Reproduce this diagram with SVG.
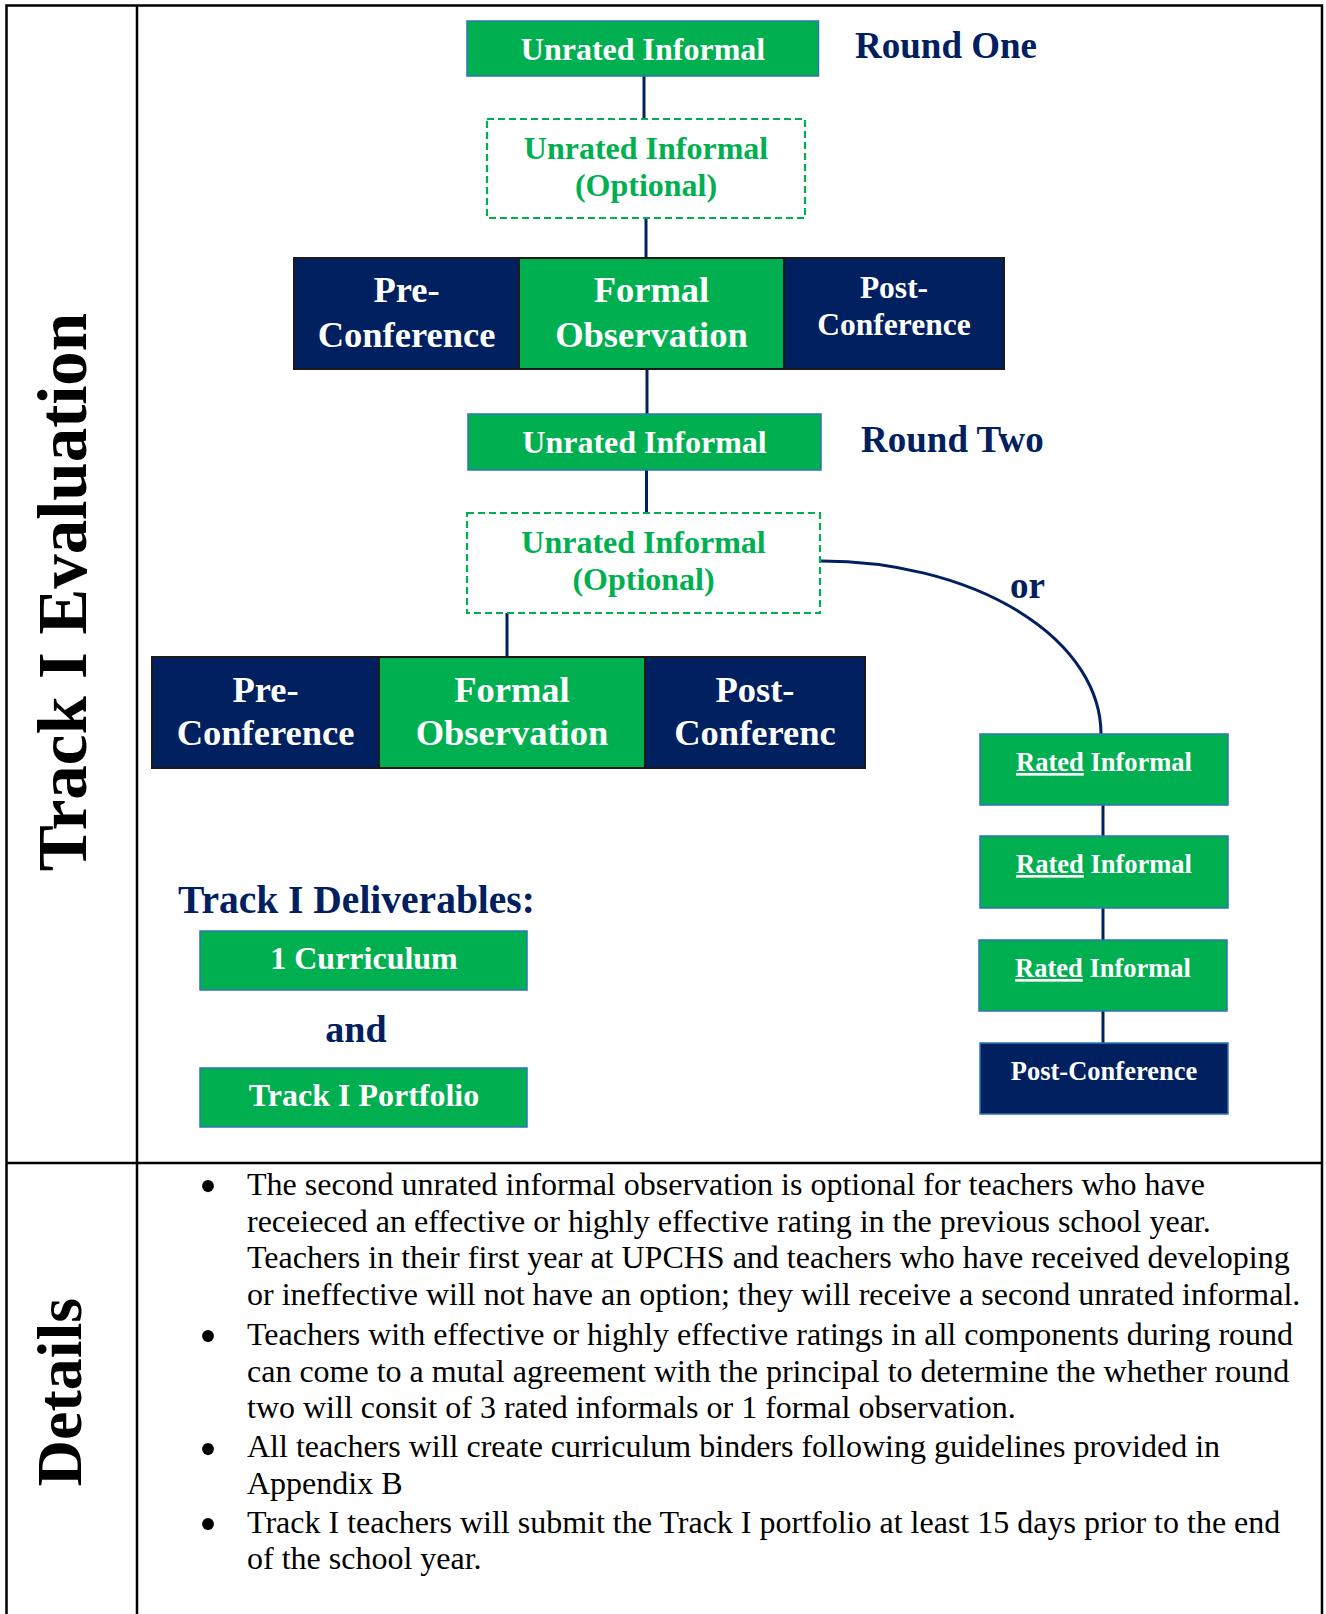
<svg xmlns="http://www.w3.org/2000/svg" width="1326" height="1614" viewBox="0 0 1326 1614">
<style>
text{font-family:"Liberation Serif","Times New Roman",serif;}
.b{font-weight:bold;}
.w{fill:#ffffff;}
.nv{fill:#002060;}
.gt{fill:#00B050;}
.gbox{fill:#00B050;stroke:#2E75B6;stroke-width:1.5;}
.nbox{fill:#002060;stroke:#1a1a1a;stroke-width:2;}
.gbox2{fill:#00B050;stroke:#1a1a1a;stroke-width:2;}
.nbox2{fill:#002060;stroke:#2E75B6;stroke-width:1.5;}
.dbox{fill:#ffffff;stroke:#00B050;stroke-width:2.2;stroke-dasharray:7 4;}
.con{stroke:#002060;stroke-width:3;fill:none;}
.frame{stroke:#000;stroke-width:2.5;fill:none;}
.c{text-anchor:middle;}
.body{font-size:32px;fill:#000;}
.bul{font-size:50px;fill:#000;text-anchor:middle;}
</style>
<rect width="1326" height="1614" fill="#ffffff"/>
<g id="frame">
<path class="frame" d="M6.5 1614 V5.5 H1322 V1614 M137 5.5 V1614 M6.5 1163 H1322"/>
</g>
<g id="labels">
<text class="b" font-size="69" fill="#000" transform="translate(86 592) rotate(-90)" text-anchor="middle">Track I Evaluation</text>
<text class="b" font-size="64" fill="#000" transform="translate(81 1392) rotate(-90)" text-anchor="middle">Details</text>
<text class="b nv" x="855" y="58" font-size="37">Round One</text>
<text class="b nv" x="861" y="452" font-size="37">Round Two</text>
<text class="b nv" x="1010" y="598" font-size="37">or</text>
<text class="b nv" x="178" y="913" font-size="39.5">Track I Deliverables:</text>
<text class="b nv c" x="356" y="1042" font-size="38">and</text>
</g>
<g id="connectors">
<line class="con" x1="644" y1="76" x2="644" y2="119"/>
<line class="con" x1="646" y1="218" x2="646" y2="258"/>
<line class="con" x1="647" y1="369" x2="647" y2="414"/>
<line class="con" x1="646.5" y1="470" x2="646.5" y2="513"/>
<line class="con" x1="507" y1="613" x2="507" y2="657"/>
<path class="con" d="M821 561 A280 173 0 0 1 1101 734"/>
<line class="con" x1="1103" y1="805" x2="1103" y2="836"/>
<line class="con" x1="1103" y1="908" x2="1103" y2="940"/>
<line class="con" x1="1103" y1="1011" x2="1103" y2="1043"/>
</g>
<g id="unrated1">
<rect class="gbox" x="467" y="21" width="351.5" height="55"/>
<text class="b w c" x="643" y="60" font-size="32">Unrated Informal</text>
</g>
<g id="optional1">
<rect class="dbox" x="487" y="119" width="318" height="99"/>
<text class="b gt c" x="646" y="159" font-size="32">Unrated Informal</text>
<text class="b gt c" x="646" y="196" font-size="32">(Optional)</text>
</g>
<g id="pre1">
<rect class="nbox" x="294" y="258" width="225" height="111"/>
<text class="b w c" x="406.5" y="302" font-size="36.5">Pre-</text>
<text class="b w c" x="406.5" y="347" font-size="36.5">Conference</text>
</g>
<g id="formal1">
<rect class="gbox2" x="519" y="258" width="265" height="111"/>
<text class="b w c" x="651.5" y="302" font-size="36.5">Formal</text>
<text class="b w c" x="651.5" y="347" font-size="36.5">Observation</text>
</g>
<g id="post1">
<rect class="nbox" x="784" y="258" width="220" height="111"/>
<text class="b w c" x="894" y="298" font-size="31.5">Post-</text>
<text class="b w c" x="894" y="335" font-size="31.5">Conference</text>
</g>
<g id="unrated2">
<rect class="gbox" x="468" y="414" width="353" height="56"/>
<text class="b w c" x="644.5" y="453" font-size="32">Unrated Informal</text>
</g>
<g id="optional2">
<rect class="dbox" x="467" y="513" width="353" height="100"/>
<text class="b gt c" x="643.5" y="553" font-size="32">Unrated Informal</text>
<text class="b gt c" x="643.5" y="590" font-size="32">(Optional)</text>
</g>
<g id="pre2">
<rect class="nbox" x="152" y="657" width="227" height="111"/>
<text class="b w c" x="265.5" y="702" font-size="36.5">Pre-</text>
<text class="b w c" x="265.5" y="745" font-size="36.5">Conference</text>
</g>
<g id="formal2">
<rect class="gbox2" x="379" y="657" width="266" height="111"/>
<text class="b w c" x="512" y="702" font-size="36.5">Formal</text>
<text class="b w c" x="512" y="745" font-size="36.5">Observation</text>
</g>
<g id="post2">
<rect class="nbox" x="645" y="657" width="220" height="111"/>
<text class="b w c" x="755" y="702" font-size="36.5">Post-</text>
<text class="b w c" x="755" y="745" font-size="36.5">Conferenc</text>
</g>
<g id="rated1">
<rect class="gbox" x="980" y="734" width="248" height="71"/>
<text class="b w c" x="1104" y="771" font-size="26.5"><tspan text-decoration="underline">Rated</tspan> Informal</text>
</g>
<g id="rated2">
<rect class="gbox" x="980" y="836" width="248" height="72"/>
<text class="b w c" x="1104" y="873" font-size="26.5"><tspan text-decoration="underline">Rated</tspan> Informal</text>
</g>
<g id="rated3">
<rect class="gbox" x="979" y="940" width="248" height="71"/>
<text class="b w c" x="1103" y="977" font-size="26.5"><tspan text-decoration="underline">Rated</tspan> Informal</text>
</g>
<g id="postconf3">
<rect class="nbox2" x="980" y="1043" width="248" height="71"/>
<text class="b w c" x="1104" y="1080" font-size="26.5">Post-Conference</text>
</g>
<g id="curriculum">
<rect class="gbox" x="200" y="931" width="327" height="59"/>
<text class="b w c" x="364" y="969" font-size="32">1 Curriculum</text>
</g>
<g id="portfolio">
<rect class="gbox" x="200" y="1068" width="327" height="59"/>
<text class="b w c" x="364" y="1106" font-size="32">Track I Portfolio</text>
</g>
<g id="details">
<text class="bul" x="208" y="1202.5">•</text>
<text class="bul" x="208" y="1352.5">•</text>
<text class="bul" x="208" y="1465.5">•</text>
<text class="bul" x="208" y="1540.5">•</text>
<text class="body" x="247" y="1195">The second unrated informal observation is optional for teachers who have</text>
<text class="body" x="247" y="1231.5">receieced an effective or highly effective rating in the previous school year.</text>
<text class="body" x="247" y="1268">Teachers in their first year at UPCHS and teachers who have received developing</text>
<text class="body" x="247" y="1304.5">or ineffective will not have an option; they will receive a second unrated informal.</text>
<text class="body" x="247" y="1345">Teachers with effective or highly effective ratings in all components during round</text>
<text class="body" x="247" y="1381.5">can come to a mutal agreement with the principal to determine the whether round</text>
<text class="body" x="247" y="1418">two will consit of 3 rated informals or 1 formal observation.</text>
<text class="body" x="247" y="1457">All teachers will create curriculum binders following guidelines provided in</text>
<text class="body" x="247" y="1494">Appendix B</text>
<text class="body" x="247" y="1533">Track I teachers will submit the Track I portfolio at least 15 days prior to the end</text>
<text class="body" x="247" y="1569">of the school year.</text>
</g>
</svg>
